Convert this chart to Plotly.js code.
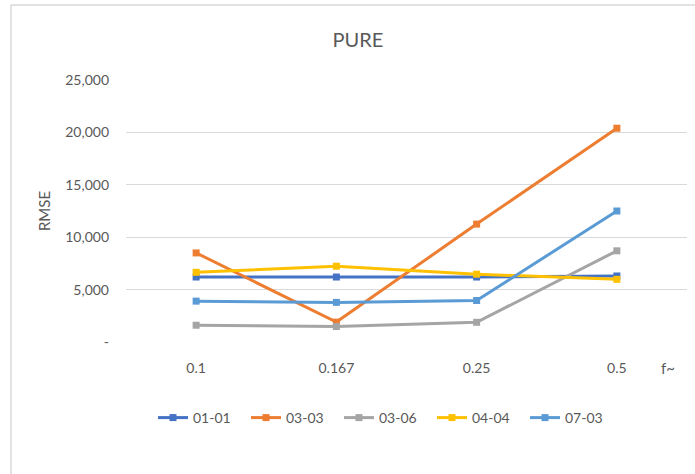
<!DOCTYPE html>
<html>
<head>
<meta charset="utf-8">
<script src="https://cdn.plot.ly/plotly-3.0.1.min.js"></script>
<style>
  html, body { margin: 0; padding: 0; background: #ffffff; }
  #chart { width: 695px; height: 474px; }
</style>
</head>
<body>
<div id="chart"></div>
<script>
const categories = ["0.1", "0.167", "0.25", "0.5"];
const seriesNames = ["01-01", "03-03", "03-06", "04-04", "07-03"];
const s0101 = [6200, 6200, 6200, 6300];
const s0303 = [8500, 1900, 11250, 20400];
const s0306 = [1600, 1480, 1880, 8700];
const s0404 = [6650, 7230, 6470, 5980];
const s0703 = [3900, 3780, 3960, 12500];
const yTickVals = [0, 5000, 10000, 15000, 20000, 25000];
const yTickText = ["-", "5,000", "10,000", "15,000", "20,000", "25,000"];

const seriesData = [s0101, s0303, s0306, s0404, s0703];
const colors = ["#4472C4", "#ED7D31", "#A5A5A5", "#FFC000", "#5B9BD5"];
const font = "Lato, 'Open Sans', sans-serif";

const traces = seriesData.map((vals, i) => ({
  type: "scatter",
  mode: "lines+markers",
  name: seriesNames[i],
  x: categories,
  y: vals,
  line: { color: colors[i], width: 3 },
  marker: { color: colors[i], symbol: "square", size: 7 },
  cliponaxis: false
}));

const layout = {
  width: 695,
  height: 474,
  margin: { l: 126, r: 8, t: 80, b: 132 },
  paper_bgcolor: "#ffffff",
  plot_bgcolor: "#ffffff",
  font: { family: font, color: "#595959", size: 14 },
  title: {
    text: "PURE",
    font: { family: font, size: 20, color: "#595959" },
    xref: "container", x: 358 / 695, xanchor: "center",
    yref: "container", y: 1 - 40 / 474, yanchor: "middle"
  },
  xaxis: {
    type: "category",
    range: [-0.5, 3.5],
    showgrid: false,
    zeroline: false,
    showline: false,
    ticks: "",
    ticklabelstandoff: 16,
    tickfont: { family: font, size: 14, color: "#595959" },
    fixedrange: true
  },
  yaxis: {
    range: [0, 25000],
    tickvals: yTickVals,
    ticktext: yTickText,
    showgrid: true,
    gridcolor: "#d9d9d9",
    gridwidth: 1,
    zeroline: false,
    showline: false,
    ticks: "",
    ticklabelstandoff: 16,
    tickfont: { family: font, size: 14, color: "#595959" },
    title: { text: "RMSE", font: { family: font, size: 15, color: "#595959" }, standoff: 10 },
    fixedrange: true
  },
  showlegend: true,
  legend: {
    orientation: "h",
    xref: "container", yref: "container",
    x: 153 / 695, xanchor: "left",
    y: 1 - 418 / 474, yanchor: "middle",
    entrywidth: 48,
    entrywidthmode: "pixels",
    font: { family: font, size: 14, color: "#595959" },
    bgcolor: "rgba(0,0,0,0)",
    itemclick: false
  },
  annotations: [{
    text: "f~",
    xref: "paper", yref: "paper",
    x: (668 - 126) / 561, y: (342 - 368) / 262,
    xanchor: "center", yanchor: "middle",
    showarrow: false,
    font: { family: font, size: 15, color: "#595959" }
  }],
  shapes: [
    { type: "line", xref: "paper", yref: "paper",
      x0: (11 - 126) / 561, x1: (11 - 126) / 561,
      y0: (342 - 480) / 262, y1: (342 - 5) / 262,
      line: { color: "#d9d9d9", width: 1.5 } },
    { type: "line", xref: "paper", yref: "paper",
      x0: (11 - 126) / 561, x1: (700 - 126) / 561,
      y0: (342 - 5) / 262, y1: (342 - 5) / 262,
      line: { color: "#d9d9d9", width: 1.5 } }
  ]
};

Plotly.newPlot("chart", traces, layout, { displayModeBar: false, staticPlot: true });
</script>
</body>
</html>
